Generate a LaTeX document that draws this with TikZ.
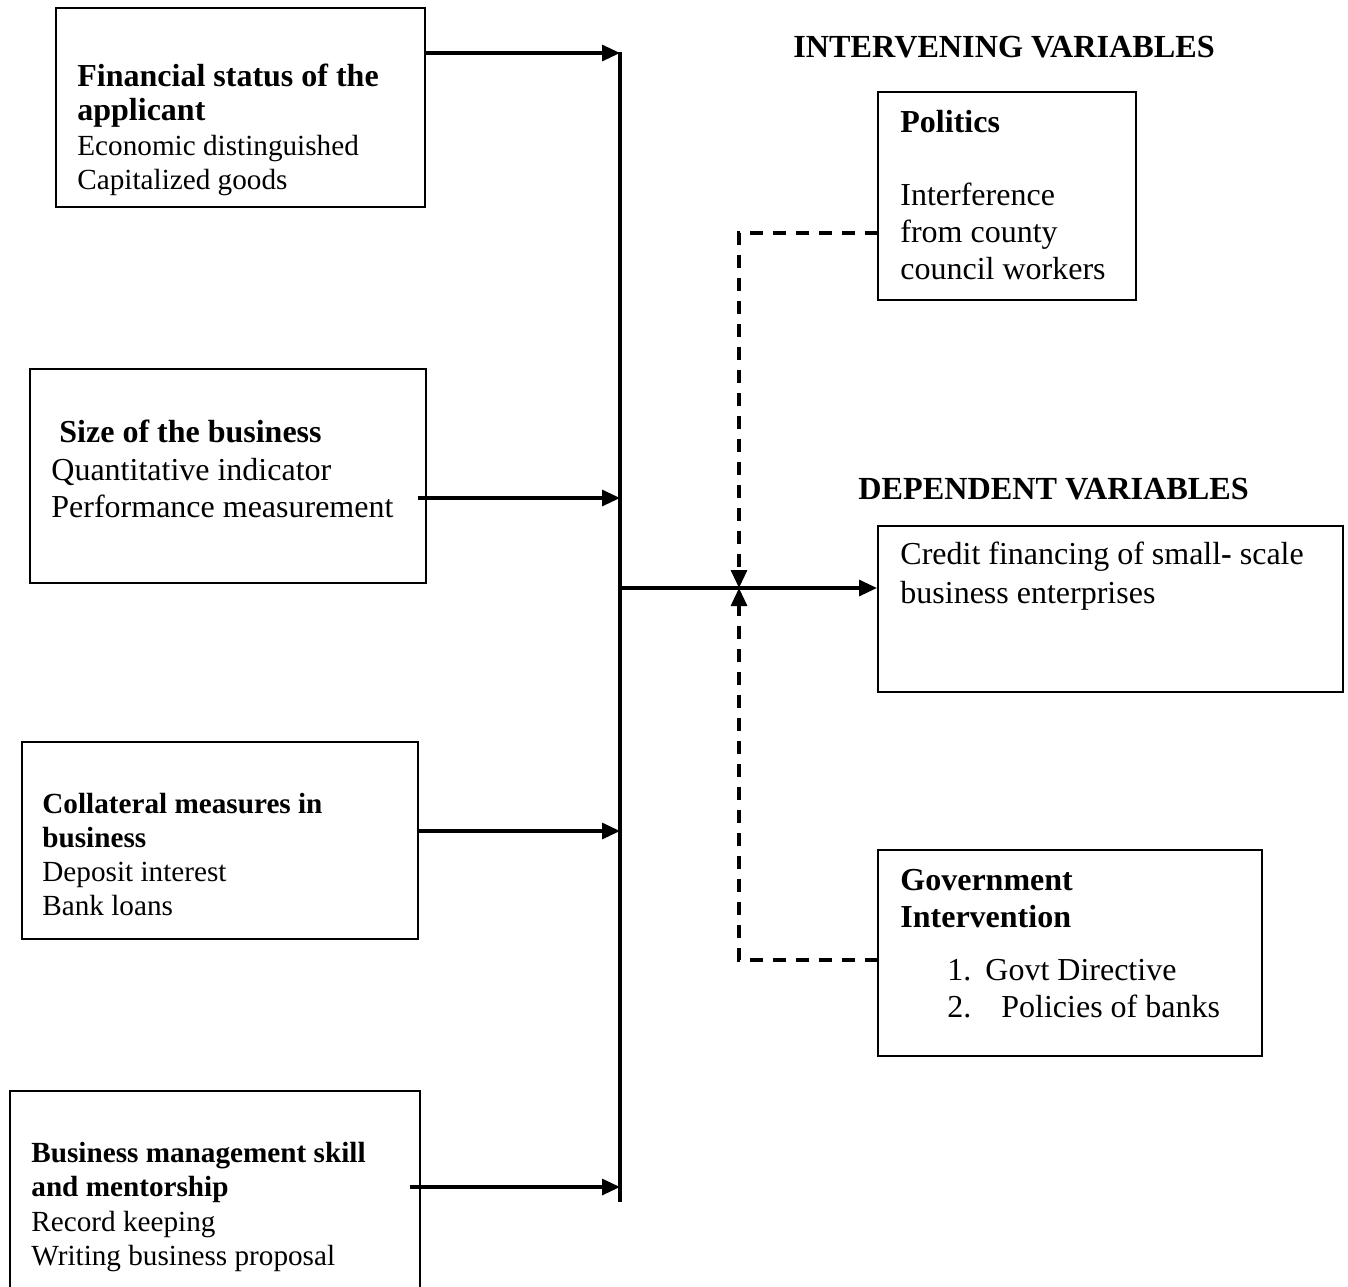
\documentclass[tikz,border=0pt]{standalone}
\usepackage{fontspec}
\setmainfont{Liberation Serif}
\usetikzlibrary{positioning,%
  fit,%
  calc,%
  arrows.meta
}

\newcommand{\fsz}[2]{\fontsize{#1}{#2}\selectfont}

\tikzset{
  box/.style={draw, line width=1pt, inner sep=0pt},
  txt/.style={anchor=north west, inner sep=0pt, align=left},
  head/.style={anchor=base west, inner sep=0pt, font=\fsz{16.1pt}{18pt}\bfseries},
  arr/.style={line width=1.6pt, -{Triangle[length=9pt,width=8pt]}},
  dsh/.style={line width=1.6pt, dash pattern=on 6.5pt off 5pt, -{Triangle[length=9pt,width=8pt]}}
}

\begin{document}
\begin{tikzpicture}[x=0.5pt,y=-0.5pt]
\useasboundingbox (0,0) rectangle (1348,1286);

% independent variables
\node[box, fit={(56,8) (425,207)}] (fin) {};
\node[txt, font=\fsz{16pt}{17.2pt}] (fintxt) at (77,62) {\strut\textbf{Financial status of the}\\\textbf{applicant}\\\fsz{14.6pt}{17.2pt}Economic distinguished\\\fsz{14.6pt}{17.2pt}Capitalized goods};
\node[box, fit={(30,369) (426,583)}] (size) {};
\node[txt, font=\fsz{16pt}{18.75pt}] (sizetxt) at (51,416) {\strut\textbf{\ Size of the business}\\Quantitative indicator\\Performance measurement};
\node[box, fit={(22,742) (418,939)}] (coll) {};
\node[txt, font=\fsz{14.6pt}{17pt}] (colltxt) at (42,789) {\strut\textbf{Collateral measures in}\\\textbf{business}\\Deposit interest\\Bank loans};
\node[box, fit={(10,1091) (420,1300)}] (mgmt) {};
\node[txt, font=\fsz{14.6pt}{17.2pt}] (mgmttxt) at (31,1138) {\strut\textbf{Business management skill}\\\textbf{and mentorship}\\Record keeping\\Writing business proposal};

% intervening variables
\node[head] (intvar) at (793,57) {INTERVENING VARIABLES};
\node[box, fit={(878,92) (1136,300)}] (pol) {};
\node[txt, font=\fsz{16pt}{18.5pt}] (poltxt) at (900,106) {\strut\textbf{Politics}\\[18pt]Interference\\from county\\council workers};
\node[box, fit={(878,850) (1262,1056)}] (gov) {};
\node[txt, font=\fsz{16pt}{18.5pt}] (govtxt) at (900,864) {\strut\textbf{Government}\\\textbf{Intervention}\\[8pt]\hspace*{23.5pt}1.\hspace{7pt}Govt Directive\\\hspace*{23.5pt}2.\hspace{15pt}Policies of banks};

% dependent variable
\node[head] (depvar) at (858,499) {DEPENDENT VARIABLES};
\node[box, fit={(878,526) (1343,692)}] (dep) {};
\node[txt, font=\fsz{16pt}{19.5pt}] (deptxt) at (900,537) {\strut Credit financing of small\textbf{-} scale\\business enterprises};

% connectors
\coordinate (bustop) at (620,52);
\coordinate (busbot) at (620,1202);
\coordinate (finout) at (425,53);
\coordinate (sizeout) at (418,498);
\coordinate (collout) at (418,831);
\coordinate (mgmtout) at (410,1187);
\coordinate (join) at (620,588);
\coordinate (meet) at (739,588);
\coordinate (polin) at (878,233);
\coordinate (govin) at (878,960);

\draw[line width=1.6pt] (bustop) -- (busbot);
\draw[arr] (finout) -- (finout -| bustop);
\draw[arr] (sizeout) -- (sizeout -| bustop);
\draw[arr] (collout) -- (collout -| bustop);
\draw[arr] (mgmtout) -- (mgmtout -| bustop);
\draw[arr] (join) -- (join -| dep.west);
\draw[dsh] (polin) -| (meet);
\draw[dsh] (govin) -| (meet);
\end{tikzpicture}
\end{document}
